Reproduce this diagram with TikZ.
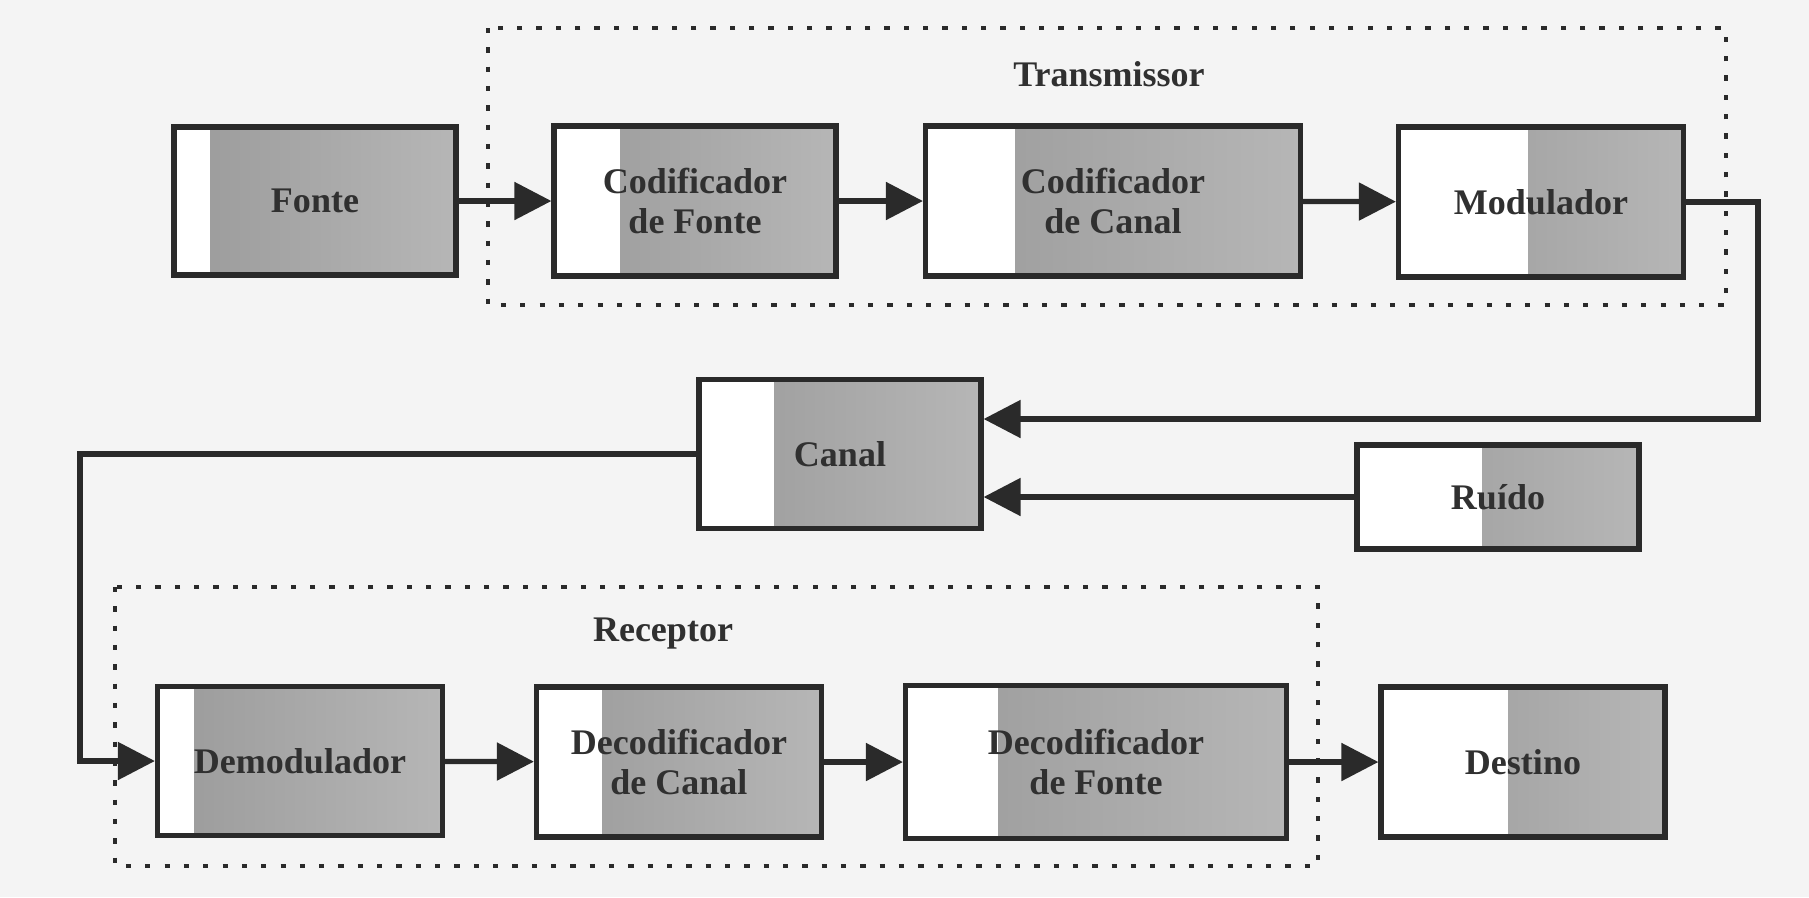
\documentclass[tikz,border=0pt]{standalone}
\usepackage{fontspec}
\setmainfont{Liberation Serif}
\usepackage{tikz}
\usetikzlibrary{arrows.meta}
\usetikzlibrary{calc}
\usepackage{xcolor}

\definecolor{linha}{HTML}{2A2A2A}
\definecolor{texto}{HTML}{303030}
\definecolor{cinzaesc}{HTML}{9A9A9A}
\definecolor{cinzacla}{HTML}{B6B6B6}
\definecolor{fundo}{HTML}{F4F4F4}

\newcommand{\blocofont}{\fontsize{20.5}{23}\selectfont\bfseries}

\tikzset{
  bloco/.style={draw=linha, line width=3pt, fill=white, inner sep=0pt,
    align=center, text=texto, font=\blocofont},
  faixa/.style={path picture={
    \shade[left color=cinzaesc, right color=cinzacla]
      ([xshift=#1]path picture bounding box.south west)
      rectangle (path picture bounding box.north east);}},
  pontilhado/.style={draw=linha, line width=2pt, dash pattern=on 3pt off 8pt},
  ligacao/.style={draw=linha, line width=3pt},
  rotulo/.style={text=texto, font=\blocofont},
}

\begin{document}
\begin{tikzpicture}[x=0.02cm,y=-0.02cm,>={Triangle[length=0.74cm,width=0.74cm]}]
		\fill[fundo] (0,0) rectangle (1809,897);
		\useasboundingbox (0,0) rectangle (1809,897);
		
		% Transmissor
		\draw[pontilhado] (488,28) rectangle (1726,305);
		\node[rotulo] (tx) at (1109,74) {Transmissor};
		\node[bloco, faixa=0.72cm, minimum width=5.64cm, minimum height=2.96cm] (fonte) at (315,201) {Fonte};
		\node[bloco, faixa=1.32cm, minimum width=5.64cm, minimum height=3cm] (codfonte) at (695,201) {Codificador\\de Fonte};
		\node[bloco, faixa=1.8cm, minimum width=7.5cm, minimum height=3cm] (codcanal) at (1113,201) {Codificador\\de Canal};
		\node[bloco, faixa=2.6cm, minimum width=5.7cm, minimum height=3cm] (modulador) at (1541,202) {Modulador};
		
		% Canal e ruido
		\node[bloco, faixa=1.5cm, minimum width=5.64cm, minimum height=2.98cm] (canal) at (840,454) {Canal};
		\node[bloco, faixa=2.5cm, minimum width=5.64cm, minimum height=2.08cm] (ruido) at (1498,497) {Ruído};
		
		% Receptor
		\draw[pontilhado] (115,587) rectangle (1318,866);
		\node[rotulo] (rx) at (663,634) {Receptor};
		\node[bloco, faixa=0.74cm, minimum width=5.7cm, minimum height=2.98cm] (demod) at (300,761) {Demodulador};
		\node[bloco, faixa=1.32cm, minimum width=5.7cm, minimum height=3cm] (deccanal) at (679,762) {Decodificador\\de Canal};
		\node[bloco, faixa=1.86cm, minimum width=7.62cm, minimum height=3.06cm] (decfonte) at (1096,762) {Decodificador\\de Fonte};
		\node[bloco, faixa=2.54cm, minimum width=5.68cm, minimum height=3cm] (destino) at (1523,762) {Destino};
		
		% Ligacoes
		\draw[ligacao,->] (fonte) -- (codfonte);
		\draw[ligacao,->] (codfonte) -- (codcanal);
		\draw[ligacao,->] (codcanal) -- (modulador);
		\coordinate (retorno) at (1758,419);
		\draw[ligacao,->] (modulador.east) -| (retorno) -- (canal.east |- retorno);
		\draw[ligacao,->] (ruido.west) -- (canal.east |- ruido.west);
		\coordinate (esquerda) at (80,454);
		\draw[ligacao,->] (canal.west) -- (esquerda) |- (demod.west);
		\draw[ligacao,->] (demod) -- (deccanal);
		\draw[ligacao,->] (deccanal) -- (decfonte);
		\draw[ligacao,->] (decfonte) -- (destino);
	\end{tikzpicture}
\end{document}
